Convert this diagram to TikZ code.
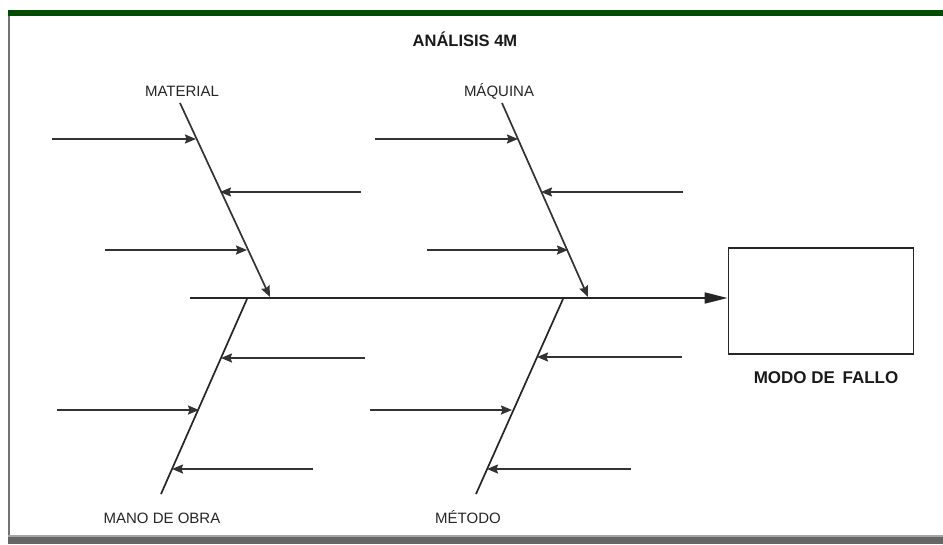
\documentclass[tikz,border=0pt]{standalone}
\usepackage{fontspec}
\setmainfont{Liberation Sans}
\usetikzlibrary{arrows.meta}
\begin{document}
\begin{tikzpicture}[x=1pt,y=-1pt,
  bone/.style={line width=1.7pt,draw=black!85},
  cause/.style={line width=1.7pt,draw=black!80,-{Stealth[length=11pt,width=9pt,inset=1.5pt]}},
  lbl/.style={font=\fontsize{15}{17}\selectfont,text=black!85,inner sep=0pt},
  blbl/.style={font=\fontsize{16.5}{18}\selectfont\bfseries,text=black!90,inner sep=0pt}]
\useasboundingbox (0,0) rectangle (943,544);
\fill[white] (0,0) rectangle (943,544);
% frame
\fill[green!30!black] (8,10) rectangle (943,16);
\fill[black!55] (8,16) rectangle (10,536);
\fill[black!35] (8,535) rectangle (943,537);
\fill[black!60] (8,537) rectangle (943,544);
% title
\node[blbl] (title) at (465,39) {ANÁLISIS 4M};
% effect box
\node[draw=black!85,line width=1.8pt,minimum width=185pt,minimum height=106pt,inner sep=0pt] (box) at (821,301) {};
\node[blbl,font=\fontsize{17}{19}\selectfont\bfseries] (modo) at (826,378) {MODO DE\, FALLO};
% spine
\coordinate (s0) at (190,298);
\draw[line width=1.7pt,draw=black!85,-{Triangle[length=23pt,width=11pt]}] (s0) -- (s0 -| box.west);
% bone ends
\coordinate (matT) at (180,103);
\coordinate (matB) at (270,297);
\coordinate (maqT) at (502,103);
\coordinate (maqB) at (588,297);
\coordinate (manT) at (247,299);
\coordinate (manB) at (161,494);
\coordinate (metT) at (563,299);
\coordinate (metB) at (476,494);
\node[lbl] (lmat) at (182,91) {MATERIAL};
\node[lbl] (lmaq) at (499,91) {MÁQUINA};
\node[lbl] (lman) at (162,518) {MANO DE OBRA};
\node[lbl] (lmet) at (468,517) {MÉTODO};
\draw[cause] (matT) -- (matB);
\draw[cause] (maqT) -- (maqB);
\draw[bone] (manT) -- (manB);
\draw[bone] (metT) -- (metB);
% causes: material
\coordinate (a1s) at (52,139);  \coordinate (a1e) at (196,139);
\coordinate (a2s) at (361,192); \coordinate (a2e) at (220,192);
\coordinate (a3s) at (105,250); \coordinate (a3e) at (247,250);
% maquina
\coordinate (b1s) at (375,139); \coordinate (b1e) at (518,139);
\coordinate (b2s) at (683,192); \coordinate (b2e) at (541,192);
\coordinate (b3s) at (427,250); \coordinate (b3e) at (568,250);
% mano de obra
\coordinate (c1s) at (365,358); \coordinate (c1e) at (221,358);
\coordinate (c2s) at (57,410);  \coordinate (c2e) at (199,410);
\coordinate (c3s) at (313,469); \coordinate (c3e) at (172,469);
% metodo
\coordinate (d1s) at (682,357); \coordinate (d1e) at (537,357);
\coordinate (d2s) at (370,410); \coordinate (d2e) at (512,410);
\coordinate (d3s) at (631,469); \coordinate (d3e) at (487,469);
\foreach \p in {a1,a2,a3,b1,b2,b3,c1,c2,c3,d1,d2,d3}{
  \draw[cause] (\p s) -- (\p e);
}
\end{tikzpicture}
\end{document}
